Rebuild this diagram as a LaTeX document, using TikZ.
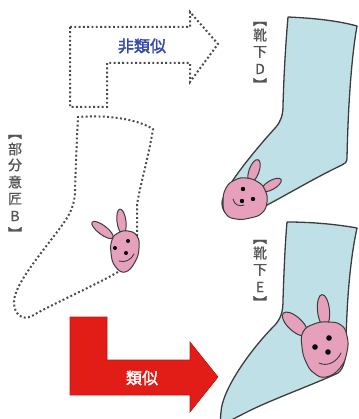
\documentclass[tikz,border=0pt]{standalone}
\usepackage{fontspec}
\newfontfamily\jp[FakeBold=1]{Noto Sans CJK JP}
\newfontfamily\jpbold[FakeBold=2]{Noto Sans CJK JP}

\definecolor{sockblue}{RGB}{190,224,230}
\definecolor{inkline}{RGB}{60,60,60}
\definecolor{bunny}{RGB}{230,160,188}
\definecolor{arrowred}{RGB}{226,28,22}
\definecolor{textblue}{RGB}{50,72,170}
\definecolor{labelgray}{RGB}{85,85,85}
\definecolor{dotgray}{RGB}{75,75,75}

\tikzset{
  sock/.style={fill=sockblue, draw=inkline, line width=1.3pt, line join=round},
  dotline/.style={draw=dotgray, line width=2pt, dash pattern=on 1.9pt off 2.4pt},
  bunnypart/.style={fill=bunny, draw=inkline, line width=1pt},
  bunnyeye/.style={fill=black, draw=none},
  bunnymouth/.style={draw=inkline, line width=0.9pt, line cap=round},
  vlabel/.style={font=\jp\fontsize{14}{14}\selectfont, text=labelgray, inner sep=0pt},
  vbracket/.style={font=\jpbold\fontsize{14}{14}\selectfont, text=labelgray, inner sep=0pt},
  arrowtext/.style={font=\jpbold\fontsize{16}{16}\selectfont, inner sep=0pt},
}

\begin{document}
\begin{tikzpicture}[x=1pt, y=-1pt]
\useasboundingbox (0,0) rectangle (358,419);
\clip (0,0) rectangle (358,419);

% ---------- non-similar arrow (dotted outline) ----------
\draw[dotline] (70,27) -- (190,27) -- (190,12) -- (218,44) -- (190,82)
  -- (190,63) -- (107,63) -- (107,107) -- (70,107) -- cycle;
\node[arrowtext, text=textblue] (nonsim) at (142,46) {非類似};

% ---------- similar arrow (solid red) ----------
\fill[arrowred, draw=arrowred!85!black, line width=0.6pt]
  (70,317) -- (107,317) -- (107,360) -- (190,360) -- (190,342) -- (218,377)
  -- (190,412) -- (190,395) -- (70,395) -- cycle;
\node[arrowtext, text=white] (sim) at (142,378) {類似};

% ---------- partial design B (dotted sock) ----------
\draw[dotline] (118,272) .. controls (90,288) and (50,305) .. (32,316)
  .. controls (22,321) and (14,314) .. (14,302)
  .. controls (14,285) and (40,255) .. (60,228)
  .. controls (70,215) and (75,205) .. (75,190)
  .. controls (76,160) and (77,135) .. (78,117)
  .. controls (105,115) and (135,118) .. (153,129)
  .. controls (148,160) and (140,185) .. (137,205) -- (137,238);

% bunny on B
\draw[bunnypart, rotate around={-37:(102.5,230)}] (102.5,230) ellipse [x radius=13pt, y radius=4.5pt];
\draw[bunnypart, rotate around={-83:(121.5,221.5)}] (121.5,221.5) ellipse [x radius=12.5pt, y radius=4.5pt];
\draw[bunnypart] plot[smooth cycle, tension=0.8] coordinates
  {(112,240) (118,233) (128,231) (137,236) (139,248) (135,262) (125,272) (115,266) (111,253)};
\fill[bunnyeye] (128,241) circle (2pt) (115,248) circle (2pt) (126,253) circle (2pt);
\draw[bunnymouth] (119,261) .. controls (125,263) and (131,260) .. (134,254);

% ---------- sock D ----------
\draw[sock] (288,17) .. controls (310,18) and (335,20) .. (357,26)
  .. controls (351,60) and (348,110) .. (347,158)
  .. controls (347,162) and (345,164) .. (342,165)
  .. controls (310,180) and (270,205) .. (245,216)
  .. controls (232,221) and (222,214) .. (222,203)
  .. controls (222,190) and (255,150) .. (276,127)
  .. controls (281,121) and (283,115) .. (283,105)
  .. controls (284,70) and (286,40) .. (288,17) -- cycle;

% bunny on D
\draw[bunnypart, rotate around={70:(254,171)}] (254,171) ellipse [x radius=12pt, y radius=5pt];
\draw[bunnypart, rotate around={30:(271.5,185)}] (271.5,185) ellipse [x radius=11pt, y radius=4.5pt];
\draw[bunnypart] plot[smooth cycle, tension=0.8] coordinates
  {(226,188) (235,180) (246,178) (258,182) (265,190) (267,202) (262,213) (250,218) (236,219) (226,214) (223,202)};
\fill[bunnyeye] (243,189) circle (2.2pt) (242,201) circle (2.2pt) (253,199) circle (2.2pt);
\draw[bunnymouth] (233,199) .. controls (234,205) and (240,207) .. (244,205);

% ---------- sock E ----------
\draw[sock] (287,222) .. controls (310,222) and (335,224) .. (357,228)
  .. controls (350,260) and (347,300) .. (346,340)
  .. controls (346,360) and (344,368) .. (338,373)
  .. controls (310,386) and (270,400) .. (245,413)
  .. controls (235,418) and (228,422) .. (222,424)
  -- (220,424) -- (221,412)
  .. controls (222,390) and (250,350) .. (275,325)
  .. controls (281,318) and (283,312) .. (283,300)
  .. controls (284,270) and (285,245) .. (287,222) -- cycle;

% bunny on E
\draw[bunnypart, rotate around={-42.5:(295,324)}] (295,324) ellipse [x radius=16pt, y radius=7pt];
\draw[bunnypart, rotate around={-84.5:(323.5,310.5)}] (323.5,310.5) ellipse [x radius=16pt, y radius=6pt];
\draw[bunnypart] plot[smooth cycle, tension=0.8] coordinates
  {(303,332) (314,324) (328,322) (341,325) (347,336) (347,352) (340,368) (326,377) (314,373) (306,362) (302,347)};
\fill[bunnyeye] (329,338) circle (2.8pt) (315,347) circle (2.8pt) (328,352) circle (2.8pt);
\draw[bunnymouth] (319,363) .. controls (327,367) and (337,362) .. (341,353);

% ---------- vertical labels ----------
\node[vbracket] (labB1) at (15,137) {︻};
\foreach \c/\yy [count=\i from 2] in {部/149, 分/165, 意/182, 匠/199, B/216}
  \node[vlabel] (labB\i) at (15,\yy) {\c};
\node[vbracket] (labB7) at (15,233) {︼};

\node[vbracket] (labD1) at (260,24) {︻};
\foreach \c/\yy [count=\i from 2] in {靴/35, 下/52, D/69}
  \node[vlabel] (labD\i) at (260,\yy) {\c};
\node[vbracket] (labD5) at (260,84) {︼};

\node[vbracket] (labE1) at (260,242) {︻};
\foreach \c/\yy [count=\i from 2] in {靴/253, 下/270, E/287}
  \node[vlabel] (labE\i) at (260,\yy) {\c};
\node[vbracket] (labE5) at (260,302) {︼};

\end{tikzpicture}
\end{document}
